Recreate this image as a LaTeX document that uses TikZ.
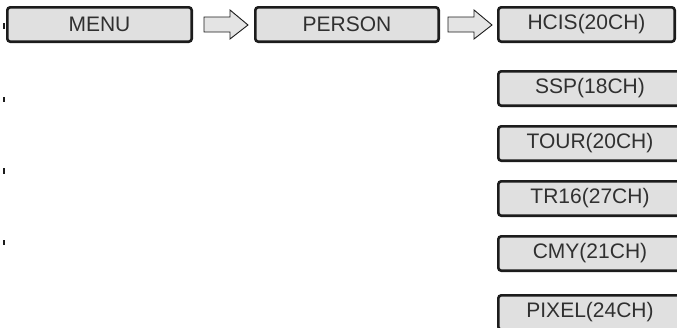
\documentclass[tikz,border=0pt]{standalone}
\usepackage{fontspec}
\setmainfont{Liberation Sans}
\usetikzlibrary{calc}
\definecolor{boxfill}{HTML}{E0E0E0}
\definecolor{boxline}{HTML}{1C1C1C}
\definecolor{txt}{HTML}{303030}
\definecolor{arrfill}{HTML}{E4E4E4}
\begin{document}
\begin{tikzpicture}[x=1pt,y=-1pt,
  menubox/.style={draw=boxline, line width=2.6pt, fill=boxfill, rounded corners=3pt,
    minimum height=34.4pt, inner sep=0pt, text=txt, font=\fontsize{21}{21}\selectfont},
  blockarrow/.style={draw=boxline, line width=0.9pt, fill=arrfill, line join=miter},
  edgemark/.style={draw=boxline, line width=1.2pt}
]
\useasboundingbox (0,0) rectangle (677,327);
% top row
\node[menubox, minimum width=184.4pt] (menu) at (99.5,24.5) {MENU};
\node[menubox, minimum width=183.4pt] (person) at (347,24.5) {PERSON};
\node[menubox, minimum width=176.4pt] (hcis) at (586.5,24.5) {HCIS(20CH)};
% column
\node[menubox, minimum width=183.4pt] (ssp) at (590,88.5) {SSP(18CH)};
\node[menubox, minimum width=183.4pt] (tour) at (590,143.5) {TOUR(20CH)};
\node[menubox, minimum width=183.4pt] (tr16) at (590,198.5) {TR16(27CH)};
\node[menubox, minimum width=183.4pt] (cmy) at (590,253.5) {CMY(21CH)};
\node[menubox, minimum width=183.4pt] (pixel) at (590,312.5) {PIXEL(24CH)};
% block arrows
\draw[blockarrow] ($(menu.east)+(11,-7.5)$) -- ($(menu.east)+(37,-7.5)$) -- ($(menu.east)+(37,-14.5)$)
  -- ($(menu.east)+(55,0.5)$) -- ($(menu.east)+(37,14.5)$) -- ($(menu.east)+(37,7.5)$)
  -- ($(menu.east)+(11,7.5)$) -- cycle;
\draw[blockarrow] ($(person.east)+(8,-7.5)$) -- ($(person.east)+(34,-7.5)$) -- ($(person.east)+(34,-14.5)$)
  -- ($(person.east)+(52,0.5)$) -- ($(person.east)+(34,14.5)$) -- ($(person.east)+(34,7.5)$)
  -- ($(person.east)+(8,7.5)$) -- cycle;
% small marks at the left edge
\draw[edgemark] (4,23) -- (4,29);
\draw[edgemark] (4,97) -- (4,102);
\draw[edgemark] (4,168) -- (4,174);
\draw[edgemark] (4,240) -- (4,245);
\end{tikzpicture}
\end{document}
